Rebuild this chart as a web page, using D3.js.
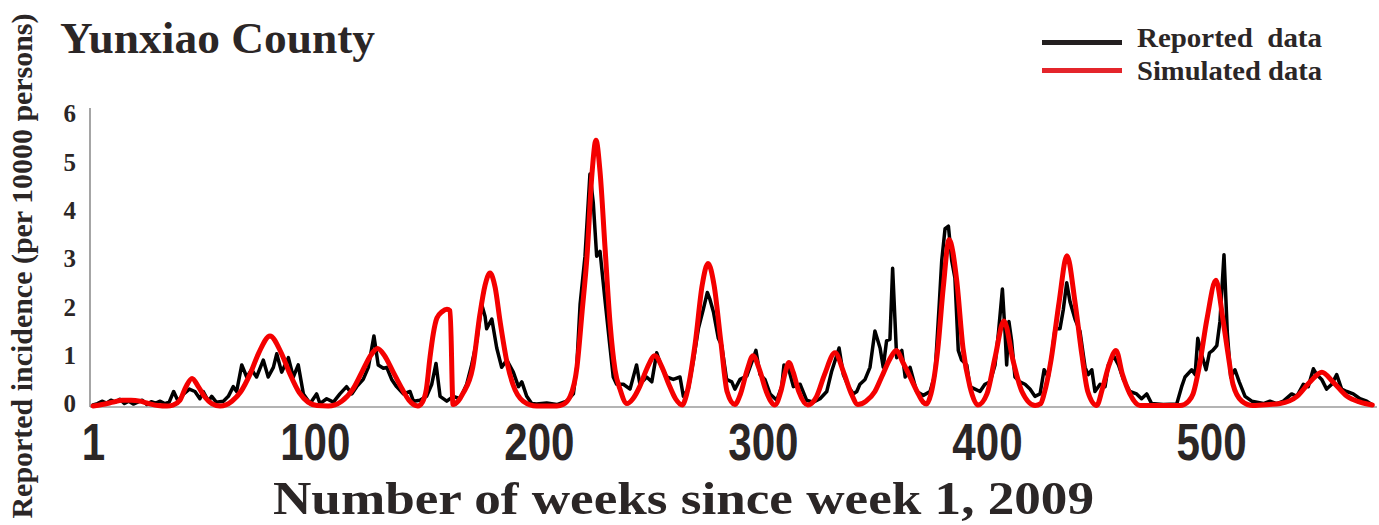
<!DOCTYPE html>
<html>
<head>
<meta charset="utf-8">
<script src="https://cdn.jsdelivr.net/npm/d3@7"></script>
<style>
  html, body { margin: 0; padding: 0; background: #fff; }
  svg { display: block; }
</style>
</head>
<body>
<svg id="chart" width="1379" height="525"></svg>
<script>
// ---------------- DATA ----------------
const titleText = "Yunxiao County";
const xTitle = "Number of weeks since week 1, 2009";
const yTitle = "Reported incidence (per 10000 persons)";
const seriesNames = ["Reported  data", "Simulated data"];
const xTicks = [1, 100, 200, 300, 400, 500];
const yTicks = [0, 1, 2, 3, 4, 5, 6];

const reportedWeeks = [1,3,5,7,9,11,13,15,17,19,21,23,25,27,29,31,33,35,
  37,39,41.5,44,46.5,48.7,50.2,52.5,54,56,
  59.2,61.4,63.6,65.1,67.4,69.6,71.8,74,77,79.2,81.5,83,85.2,88.2,90.4,92.6,94.9,97.9,100.8,102.3,105.3,108.3,111.2,114.2,116.5,118.7,121.6,123.9,126.4,128.3,130.6,132.1,134.3,136.5,139.5,142.5,144,146.9,149.9,152.2,154.1,155.9,158.9,161.8,164.8,167.8,170,172.3,174.5,176,176.7,179,181.2,183.4,185.7,188.6,190.9,192.4,194.6,196.8,199,203.5,208,212.4,215.4,216.9,218.4,220.6,222.8,224.3,225.8,227.3,229.5,231.8,233.2,234.7,237.7,240.7,243.6,245.1,248.1,250.4,252.6,254.8,257.1,260,263,264.5,266.7,269,271.2,273.4,275.2,276.4,277.9,280.1,281.6,283.8,286.1,287.5,289.8,292.8,295,296.9,298.7,300.9,303.2,306.2,308.4,309.4,311.3,313.6,316.6,319.5,322.5,325.5,328.5,330.7,334,335.9,338.2,340.4,341.9,343.3,345.6,347.8,350,352.3,353.7,355.2,356.7,357.9,359.7,362,363.5,365.7,368.6,371.6,374.6,376.8,378.7,379.8,381.3,382.8,384.3,385.7,387.2,388.7,391,392.4,394.7,396.9,399.1,401.4,403.6,405.1,406.9,408.1,408.8,409.8,411,412.5,414.7,417,419.2,421.4,423.7,425.5,427.4,428.9,430.4,432.6,434.1,435.6,437.1,439.3,441.5,443.8,445.2,446.8,448.2,450.5,452.7,454.2,456.4,458.7,460.9,463.8,466.8,469,471.3,473.5,478.7,484.7,486.9,488.4,491.4,492.9,494.1,495.9,497.8,499.3,500.8,502.6,504,505.8,507.3,508.8,510.7,512.6,515.2,518.2,523.4,526.3,529.3,532.3,536,538.3,541.2,543.4,545.7,547.2,549.4,551.6,553.9,556.1,558.3,560.6,563.5,566.5,569.5,571.7];
const reportedValues = [0.02,0.05,0.1,0.06,0.12,0.08,0.14,0.05,0.1,0.04,0.08,0.12,0.03,0.09,0.06,0.1,0.05,0.08,
  0.3,0.1,0.25,0.35,0.3,0.15,0.3,0.1,0.2,0.08,
  0.1,0.2,0.4,0.3,0.85,0.6,0.75,0.6,0.95,0.6,0.8,1.08,0.7,1.0,0.6,0.85,0.25,0.05,0.25,0.05,0.15,0.08,0.25,0.4,0.25,0.4,0.55,0.8,1.45,0.85,0.78,0.8,0.55,0.4,0.25,0.3,0.1,0.12,0.2,0.45,0.88,0.2,0.1,0.2,0.15,0.45,0.85,1.35,2.1,1.85,1.6,1.8,1.2,0.8,0.95,0.7,0.4,0.5,0.2,0.05,0.04,0.06,0.03,0.1,0.25,0.8,2.1,3.1,4.8,4.2,3.1,3.2,2.2,1.2,0.6,0.45,0.45,0.35,0.85,0.45,0.6,0.5,1.1,0.8,0.6,0.55,0.6,0.2,0.35,0.95,1.6,2.0,2.35,2.2,1.95,1.4,1.25,0.55,0.5,0.35,0.55,0.62,0.9,1.15,0.65,0.55,0.25,0.12,0.4,0.85,0.8,0.4,0.45,0.12,0.08,0.15,0.3,0.72,1.2,0.65,0.4,0.25,0.3,0.45,0.55,0.8,1.55,1.2,0.8,1.35,1.38,2.85,1.0,1.15,0.6,0.8,0.3,0.22,0.3,0.65,2.1,3.0,3.67,3.72,3.0,2.65,1.15,0.95,0.85,0.4,0.35,0.3,0.45,0.5,0.85,1.5,2.42,1.5,0.85,1.75,1.35,0.6,0.5,0.45,0.35,0.2,0.25,0.75,0.6,1.05,1.6,1.6,2.0,2.55,2.15,1.8,1.55,0.8,0.65,0.75,0.3,0.45,0.4,0.85,1.05,0.85,0.55,0.3,0.25,0.15,0.25,0.05,0.03,0.04,0.4,0.6,0.75,0.65,1.4,1.05,0.75,1.1,1.15,1.25,1.75,3.13,1.5,0.6,0.75,0.5,0.2,0.1,0.05,0.1,0.05,0.1,0.25,0.2,0.45,0.4,0.77,0.65,0.55,0.35,0.45,0.65,0.35,0.3,0.25,0.15,0.1,0.03];

const simulatedWeeks = [1,5,10,14,18,22,26,30,34,36.7,39.8,42.5,45.2,48,51,54,57.7,63,67,71,75,80,85,89,93,97,101,106,112,117,121,125,128,131,135,139,142,146,148,149.8,151.4,152.9,154.5,156.8,159,160.4,161.7,164,166,170.5,173.7,176,178.2,180.5,182.7,185.8,188.4,193,199,208,210.8,214,217,219.3,221.5,223.7,225.5,227.3,229.5,231.8,234,236.2,239.3,242,245,248,251.8,255,258,261,264,266,269.8,272.9,275.5,278.2,281.3,284,287.5,290,293,295.6,298.5,301.5,305.4,308,310,311.6,313.5,316,320,324,327.5,332.2,336,339.5,342.4,346,350,353,357,359.5,362.5,365.7,368.8,371.5,373,375,378,380.5,383.1,386.5,389.3,392.4,396,400,403.6,407.6,411.6,415.6,421.5,424,425.5,428.6,432.2,435.7,439.3,442.4,445,449,451.5,454.5,457.6,460.5,463.8,468.3,486.2,490,492,494.7,498.2,502.2,505.3,507.6,509.8,513.8,518.7,526,530.8,538.4,544.2,549.5,554.4,560.7,566.5,572];
const simulatedValues = [0,0.03,0.08,0.12,0.12,0.1,0.05,0.01,0,0.02,0.12,0.4,0.57,0.4,0.18,0.05,0,0.1,0.3,0.65,1.1,1.45,1.1,0.65,0.28,0.08,0.01,0,0.1,0.35,0.7,1.05,1.19,1.05,0.7,0.35,0.12,0,0.08,0.35,1.0,1.5,1.82,1.95,2.0,1.97,0.03,0.1,0.25,0.8,1.9,2.5,2.75,2.45,1.75,0.9,0.45,0.1,0,0,0.03,0.2,0.8,1.95,3.1,4.8,5.5,4.85,3.3,1.7,0.75,0.35,0.05,0.15,0.4,0.75,1.04,0.8,0.45,0.15,0.02,0.25,1.3,2.5,2.95,2.5,1.3,0.3,0.03,0.25,0.75,1.04,0.75,0.3,0.02,0.3,0.7,0.9,0.7,0.3,0.02,0.2,0.65,1.1,0.7,0.25,0.03,0.1,0.3,0.6,1.0,1.15,0.9,0.6,0.3,0.08,0.04,0.25,1.15,2.45,3.44,2.6,1.2,0.4,0.02,0.25,1.0,1.76,0.95,0.3,0.01,0.05,0.25,0.95,2.15,3.11,2.15,1.05,0.3,0.01,0.35,0.85,1.15,0.65,0.25,0.01,0.01,0.1,0.25,0.8,1.8,2.6,1.8,1.08,0.45,0.1,0.01,0.03,0.05,0.2,0.5,0.7,0.5,0.2,0.08,0.02];

// ---------------- DRAWING ----------------
const svg = d3.select("#chart");
const textColor = "#2b2626";
const serif = "'Liberation Serif','Times New Roman',Times,serif";

const x = d3.scaleLinear().domain([1, 500]).range([93, 1211]);
const y = d3.scaleLinear().domain([0, 6]).range([406, 116]);

// axis lines
svg.append("line").attr("x1", 90).attr("x2", 90).attr("y1", 108).attr("y2", 407)
  .attr("stroke", "#6a6a6a").attr("stroke-width", 1.2);
svg.append("line").attr("x1", 90).attr("x2", 1377).attr("y1", 407).attr("y2", 407)
  .attr("stroke", "#6a6a6a").attr("stroke-width", 1.2);

// x axis ticks (labels only)
const gx = svg.append("g").attr("transform", "translate(0,407)")
  .call(d3.axisBottom(x).tickValues(xTicks).tickSize(0).tickFormat(d3.format("d")));
gx.select(".domain").remove();
gx.selectAll("text")
  .attr("y", 53).attr("dy", null)
  .attr("fill", textColor)
  .attr("font-family", "'Liberation Sans',Arial,sans-serif")
  .attr("font-weight", "bold")
  .attr("font-size", 52)
  .attr("transform", "scale(0.81,1)");

// y axis ticks (labels only)
const gy = svg.append("g").attr("transform", "translate(90,0)")
  .call(d3.axisLeft(y).tickValues(yTicks).tickSize(0).tickFormat(d3.format("d")));
gy.select(".domain").remove();
gy.selectAll("text")
  .attr("x", -14).attr("y", -3).attr("dy", "0.35em")
  .attr("fill", textColor)
  .attr("font-family", serif)
  .attr("font-weight", "bold")
  .attr("font-size", 25);

// lines
const reported = reportedWeeks.map((w, i) => [w, reportedValues[i]]);
const simulated = simulatedWeeks.map((w, i) => [w, simulatedValues[i]]);

const lineRep = d3.line().x(d => x(d[0])).y(d => y(d[1])).curve(d3.curveLinear);
const lineSim = d3.line().x(d => x(d[0])).y(d => y(d[1])).curve(d3.curveMonotoneX);

svg.append("path").datum(reported).attr("d", lineRep)
  .attr("fill", "none").attr("stroke", "#000").attr("stroke-width", 3.5)
  .attr("stroke-linejoin", "round").attr("stroke-linecap", "round");
svg.append("path").datum(simulated).attr("d", lineSim)
  .attr("fill", "none").attr("stroke", "#f40000").attr("stroke-width", 5)
  .attr("stroke-linejoin", "round").attr("stroke-linecap", "round");

// title
svg.append("text").attr("x", 60).attr("y", 53).text(titleText)
  .attr("fill", textColor).attr("font-family", serif).attr("font-weight", "bold")
  .attr("font-size", 45).attr("textLength", 315).attr("lengthAdjust", "spacingAndGlyphs");

// legend
const legendColors = ["#231f20", "#e4252b"];
const legendY = [42.5, 70.5];
const legendBase = [47, 80];
seriesNames.forEach((name, i) => {
  svg.append("line").attr("x1", 1042).attr("x2", 1122)
    .attr("y1", legendY[i]).attr("y2", legendY[i])
    .attr("stroke", legendColors[i]).attr("stroke-width", 5);
  svg.append("text").attr("x", 1137).attr("y", legendBase[i]).text(name)
    .attr("xml:space", "preserve").style("white-space", "pre")
    .attr("fill", textColor).attr("font-family", serif).attr("font-weight", "bold")
    .attr("font-size", 28).attr("textLength", 185).attr("lengthAdjust", "spacingAndGlyphs");
});

// x axis title
svg.append("text").attr("x", 273).attr("y", 514).text(xTitle)
  .attr("fill", textColor).attr("font-family", serif).attr("font-weight", "bold")
  .attr("font-size", 47).attr("textLength", 821).attr("lengthAdjust", "spacingAndGlyphs");

// y axis title
svg.append("text").attr("transform", "translate(32,266) rotate(-90)")
  .attr("text-anchor", "middle").text(yTitle)
  .attr("fill", textColor).attr("font-family", serif).attr("font-weight", "bold")
  .attr("font-size", 29).attr("textLength", 505).attr("lengthAdjust", "spacingAndGlyphs");
</script>
</body>
</html>
